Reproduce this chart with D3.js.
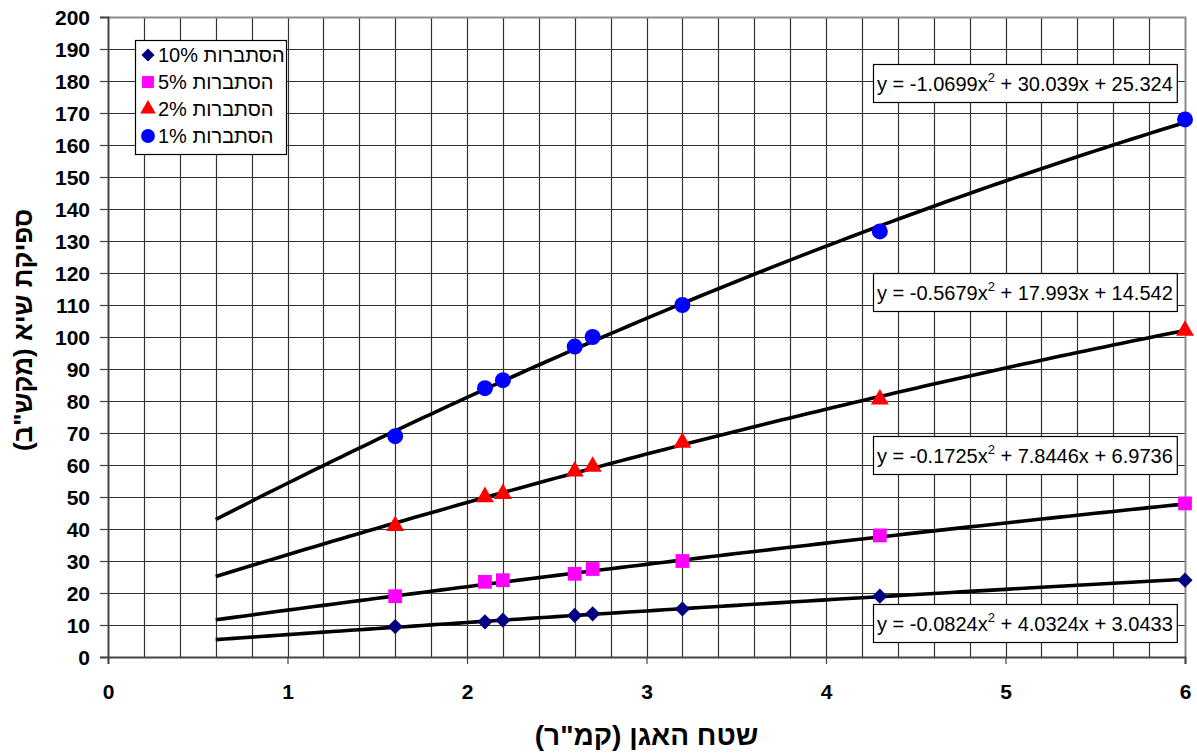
<!DOCTYPE html>
<html>
<head>
<meta charset="utf-8">
<script src="https://cdn.jsdelivr.net/npm/d3@7"></script>
<style>
  body { margin: 0; background: #fff; }
  svg { display: block; }
  text { font-family: "Liberation Sans", Arial, "DejaVu Sans", sans-serif; fill: #000; }
</style>
</head>
<body>
<div id="chart"></div>
<script>
// catchment area (km2) for every measured point
var areas = [1.6, 2.1, 2.2, 2.6, 2.7, 3.2, 4.3, 6];

// peak discharge per return probability
var peak10 = [9.5, 11, 11.5, 13, 13.5, 15, 19, 24];
var peak5 = [19, 23.5, 24, 26, 27.5, 30, 38, 48];
var peak2 = [41, 50, 51, 58, 59.5, 67, 80.5, 102];
var peak1 = [69, 84, 86.5, 97, 100, 110, 133, 168];

// polynomial trend lines (a x^2 + b x + c)
var coef10 = [-0.0824, 4.0324, 3.0433];
var coef5 = [-0.1725, 7.8446, 6.9736];
var coef2 = [-0.5679, 17.993, 14.542];
var coef1 = [-1.0699, 30.039, 25.324];

var seriesNames = ["הסתברות 10%", "הסתברות 5%", "הסתברות 2%", "הסתברות 1%"];
var xTicks = [0, 1, 2, 3, 4, 5, 6];
var yTicks = d3.range(0, 201, 10);

var svgWidth = 1197;
var svgHeight = 754;
var margin = { top: 17, right: 12, bottom: 97, left: 108 };
var width = svgWidth - margin.left - margin.right;
var height = svgHeight - margin.top - margin.bottom;

var svg = d3.select("#chart")
  .append("svg")
  .attr("width", svgWidth)
  .attr("height", svgHeight);

var chartGroup = svg.append("g")
  .attr("transform", `translate(${margin.left}, ${margin.top})`);

var xScale = d3.scaleLinear().domain([0, 6]).range([0, width]);
var yScale = d3.scaleLinear().domain([0, 200]).range([height, 0]);

// grid lines
chartGroup.append("g")
  .selectAll("line")
  .data(d3.range(1, 30).map(i => i * 0.2))
  .enter()
  .append("line")
  .attr("x1", d => Math.round(xScale(d)) + 0.5)
  .attr("x2", d => Math.round(xScale(d)) + 0.5)
  .attr("y1", 0)
  .attr("y2", height)
  .attr("stroke", "#333")
  .attr("stroke-width", 1.2);

chartGroup.append("g")
  .selectAll("line")
  .data(yTicks.filter(d => d > 0 && d < 200))
  .enter()
  .append("line")
  .attr("x1", 0)
  .attr("x2", width)
  .attr("y1", d => Math.round(yScale(d)) + 0.5)
  .attr("y2", d => Math.round(yScale(d)) + 0.5)
  .attr("stroke", "#333")
  .attr("stroke-width", 1.2);

// plot border top / right
chartGroup.append("path")
  .attr("d", `M0,0.5H${width + 0.5}V${height}`)
  .attr("fill", "none")
  .attr("stroke", "#8c8c8c")
  .attr("stroke-width", 2);

// axes
var bottomAxis = d3.axisBottom(xScale).tickValues(xTicks).tickFormat(d3.format("d")).tickSize(7).tickPadding(20);
var leftAxis = d3.axisLeft(yScale).tickValues(yTicks).tickSize(8).tickPadding(10);

var xAxisG = chartGroup.append("g").attr("transform", `translate(0, ${height})`).call(bottomAxis);
var yAxisG = chartGroup.append("g").call(leftAxis);

[xAxisG, yAxisG].forEach(function (g) {
  g.select(".domain").attr("stroke", "#444").attr("stroke-width", 2);
  g.selectAll(".tick line").attr("stroke", "#444").attr("stroke-width", 1.2);
  g.selectAll(".tick text")
    .style("font-family", "'Liberation Sans', Arial, sans-serif")
    .style("font-size", "21px")
    .style("font-weight", "bold")
    .attr("fill", "#000");
});
yAxisG.selectAll(".tick text").attr("dy", "0.36em");

// trend lines
var allCoefs = [coef10, coef5, coef2, coef1];
var curveX = d3.range(0.6, 6.0001, 0.05);
var line = d3.line()
  .x(d => xScale(d[0]))
  .y(d => yScale(d[1]));

chartGroup.append("g")
  .selectAll("path")
  .data(allCoefs)
  .enter()
  .append("path")
  .attr("d", c => line(curveX.map(x => [x, c[0] * x * x + c[1] * x + c[2]])))
  .attr("fill", "none")
  .attr("stroke", "#000")
  .attr("stroke-width", 3.6);

// markers
var series = [
  { values: peak10, color: "#000080", symbol: d3.symbolSquare, size: 115, rotate: 45 },
  { values: peak5, color: "#ff00ff", symbol: d3.symbolSquare, size: 190, rotate: 0 },
  { values: peak2, color: "#ff0000", symbol: d3.symbolTriangle, size: 140, rotate: 0 },
  { values: peak1, color: "#0000ff", symbol: d3.symbolCircle, size: 200, rotate: 0 }
];

series.forEach(function (s) {
  chartGroup.append("g")
    .selectAll("path")
    .data(s.values)
    .enter()
    .append("path")
    .attr("transform", (d, i) => `translate(${xScale(areas[i])}, ${yScale(d)}) rotate(${s.rotate})`)
    .attr("d", d3.symbol().type(s.symbol).size(s.size))
    .attr("fill", s.color);
});

// equation labels
var eqTops = [587, 419, 256, 47];
allCoefs.forEach(function (c, i) {
  var g = chartGroup.append("g").attr("transform", `translate(${873 - margin.left}, ${eqTops[i]})`);
  var rect = g.append("rect").attr("fill", "#fff").attr("stroke", "#000").attr("stroke-width", 1.2);
  var t = g.append("text")
    .attr("x", 4)
    .attr("y", 27)
    .style("font-size", "20px");
  t.append("tspan").text(`y = ${c[0]}x`);
  t.append("tspan").attr("dy", -9).style("font-size", "13px").text("2");
  t.append("tspan").attr("dy", 9).text(` + ${c[1]}x + ${c[2]}`);
  var w = t.node().getComputedTextLength();
  rect.attr("x", 0.5).attr("y", 0.5).attr("width", w + 8).attr("height", 38);
});

// legend
var legend = svg.append("g").attr("transform", "translate(135, 40)");
legend.append("rect")
  .attr("x", 0.5).attr("y", 0.5)
  .attr("width", 151).attr("height", 114)
  .attr("fill", "#fff")
  .attr("stroke", "#000")
  .attr("stroke-width", 1.2);

series.forEach(function (s, i) {
  var row = legend.append("g").attr("transform", `translate(0, ${15 + i * 27})`);
  row.append("path")
    .attr("transform", `translate(13, 0) rotate(${s.rotate})`)
    .attr("d", d3.symbol().type(s.symbol).size(s.size * 0.75))
    .attr("fill", s.color);
  row.append("text")
    .attr("x", 23)
    .attr("y", 7)
    .attr("direction", "rtl")
    .attr("text-anchor", "end")
    .style("font-size", "20px")
    .text(seriesNames[i]);
});

// axis titles
svg.append("text")
  .attr("x", margin.left + width / 2)
  .attr("y", 745)
  .attr("direction", "rtl")
  .attr("text-anchor", "middle")
  .style("font-size", "28px")
  .style("font-weight", "bold")
  .text("שטח האגן (קמ\"ר)");

svg.append("text")
  .attr("transform", `translate(32, ${margin.top + height / 2 - 7}) rotate(-90)`)
  .attr("direction", "rtl")
  .attr("text-anchor", "middle")
  .style("font-size", "26px")
  .style("font-weight", "bold")
  .text("ספיקת שיא (מקש\"ב)");
</script>
</body>
</html>
